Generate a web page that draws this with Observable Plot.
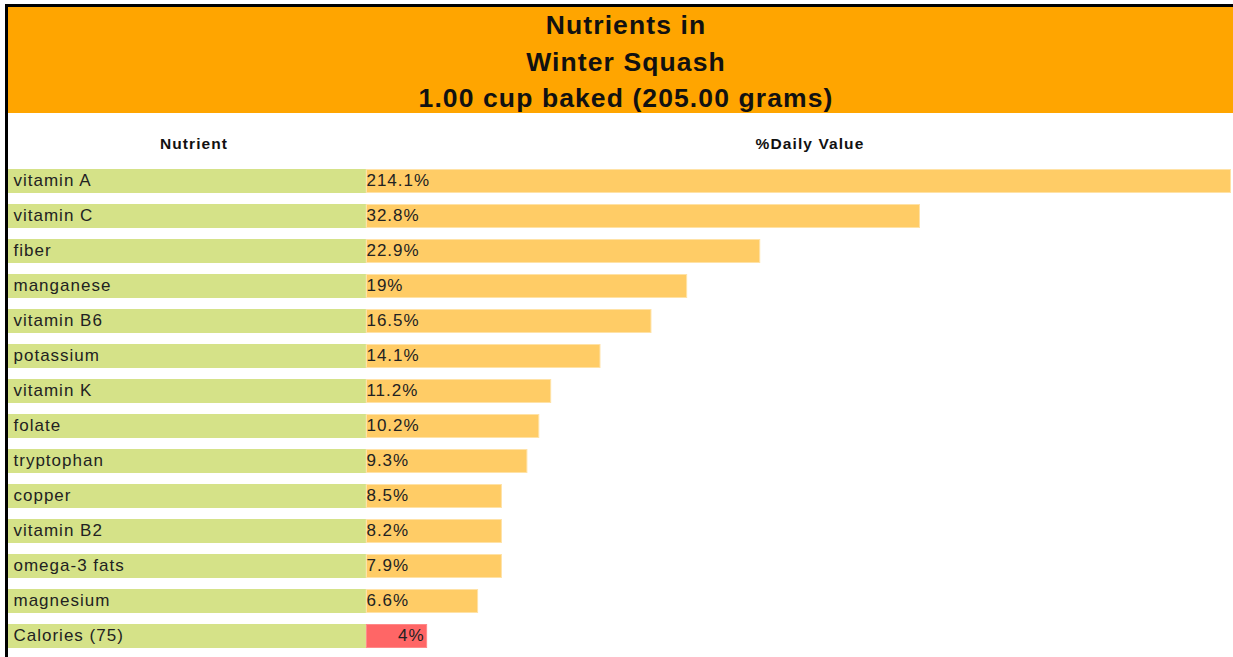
<!DOCTYPE html>
<html>
<head>
<meta charset="utf-8">
<script src="https://cdn.jsdelivr.net/npm/d3@7"></script>
<script src="https://cdn.jsdelivr.net/npm/@observablehq/plot@0.6"></script>
<style>
  html, body { margin: 0; padding: 0; width: 1233px; height: 657px; overflow: hidden; background: #fff; }
  body { font-family: "Liberation Sans", Arial, sans-serif; position: relative; }
  #frame { position: absolute; left: 5px; top: 4px; width: 1300px; height: 700px;
           border-left: 3px solid #000; border-top: 3px solid #000; }
  #header { position: absolute; left: 0; top: 0; width: 1236px; height: 106px; background: #FFA500;
            text-align: center; color: #111; font-weight: bold; font-size: 26.5px; letter-spacing: 1.1px;
            line-height: 36.5px; padding-top: 0px; }
  .colhead { position: absolute; top: 130px; font-weight: bold; font-size: 15.5px; letter-spacing: 1.1px;
             color: #111; text-align: center; line-height: 14px; }
  #chart { position: absolute; left: 0; top: 106px; }
  #chart svg text { letter-spacing: 1.0px; }
</style>
</head>
<body>
<div id="frame">
  <div id="header"></div>
  <div class="colhead" id="h1"></div>
  <div class="colhead" id="h2"></div>
  <div id="chart"></div>
</div>
<script>
// ---- data ----
const titleLines = ["Nutrients in", "Winter Squash", "1.00 cup baked (205.00 grams)"];
const columnHeaders = ["Nutrient", "%Daily Value"];
const nutrients = ["vitamin A", "vitamin C", "fiber", "manganese", "vitamin B6", "potassium",
  "vitamin K", "folate", "tryptophan", "copper", "vitamin B2", "omega-3 fats", "magnesium", "Calories (75)"];
const valueLabels = ["214.1%", "32.8%", "22.9%", "19%", "16.5%", "14.1%", "11.2%", "10.2%",
  "9.3%", "8.5%", "8.2%", "7.9%", "6.6%", "4%"];
// drawn bar length in %DV units (vitamin A bar is capped at the chart edge)
const barLength = [50.9, 32.6, 23.2, 18.9, 16.8, 13.8, 10.9, 10.2, 9.5, 8.0, 8.0, 8.0, 6.6, 3.6];
const isCalories = [false, false, false, false, false, false, false, false, false, false, false, false, false, true];
const labelColumnSpan = 21.06; // width of the nutrient-name column, in the same units

const rows = nutrients.map((n, i) => ({
  name: n, label: valueLabels[i], len: barLength[i], cal: isCalories[i]
}));

document.getElementById("header").innerHTML = titleLines.map(t => `<div>${t}</div>`).join("");
const h1 = document.getElementById("h1"), h2 = document.getElementById("h2");
h1.textContent = columnHeaders[0]; h2.textContent = columnHeaders[1];
h1.style.left = "86px"; h1.style.width = "200px";
h2.style.left = "602px"; h2.style.width = "400px";

const chart = Plot.plot({
  width: 1225,
  height: 544,
  margin: 0,
  x: { domain: [-labelColumnSpan, 50.9], range: [0, 1223], axis: null },
  y: { type: "band", domain: nutrients, range: [54.5, 535.5], paddingInner: 0.32, paddingOuter: 0, axis: null },
  style: { fontFamily: "'Liberation Sans', Arial, sans-serif", background: "transparent" },
  marks: [
    Plot.barX(rows, { y: "name", x1: () => -labelColumnSpan, x2: () => 0, fill: "#D5E288", inset: 0 }),
    Plot.barX(rows, { y: "name", x1: () => 0, x2: "len", fill: d => d.cal ? "#FF6666" : "#FFCC66",
      stroke: d => d.cal ? "#FF8888" : "#FFE2A6", strokeWidth: 1, inset: 0.5 }),
    Plot.text(rows, { y: "name", x: () => -labelColumnSpan, dx: 5, dy: -1, text: "name", textAnchor: "start",
      fontSize: 17, fill: "#222" }),
    Plot.text(rows.filter(d => !d.cal), { y: "name", x: () => 0, dx: 0, dy: -1, text: "label", textAnchor: "start",
      fontSize: 17, fill: "#222" }),
    Plot.text(rows.filter(d => d.cal), { y: "name", x: "len", dx: -3, dy: -1, text: "label", textAnchor: "end",
      fontSize: 17, fill: "#222" })
  ]
});
document.getElementById("chart").appendChild(chart);
</script>
</body>
</html>
